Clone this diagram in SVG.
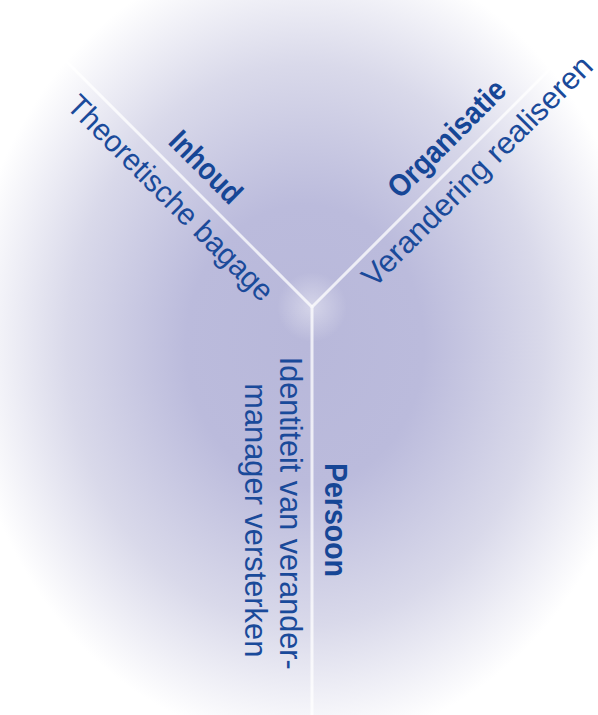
<svg xmlns="http://www.w3.org/2000/svg" width="598" height="715" viewBox="0 0 598 715">
  <defs>
    <radialGradient id="bg" cx="0" cy="0" r="1" gradientUnits="userSpaceOnUse" gradientTransform="translate(305 345) scale(340 400)">
      <stop offset="0" stop-color="#b8b8da"/>
      <stop offset="0.35" stop-color="#bbbbdc"/>
      <stop offset="0.7" stop-color="#d9d9ea"/>
      <stop offset="1" stop-color="#ffffff"/>
    </radialGradient>
    <radialGradient id="glow" cx="312" cy="307" r="35" gradientUnits="userSpaceOnUse">
      <stop offset="0" stop-color="#ffffff" stop-opacity="0.4"/>
      <stop offset="1" stop-color="#ffffff" stop-opacity="0"/>
    </radialGradient>
    <style>
      .ln { stroke: #ffffff; stroke-width: 3; stroke-opacity: 0.75; fill: none; }
      .hd { font-family: "Liberation Sans", Arial, sans-serif; font-weight: bold; font-size: 31px; fill: #164696; }
      .sb { font-family: "Liberation Sans", Arial, sans-serif; font-size: 30.5px; fill: #1a4a9a; }
    </style>
  </defs>
  <rect width="598" height="715" fill="url(#bg)"/>
  <circle cx="312" cy="307" r="35" fill="url(#glow)"/>
  <g id="connectors">
    <line class="ln" x1="312" y1="307" x2="5" y2="0"/>
    <line class="ln" x1="312" y1="307" x2="598" y2="21"/>
    <line class="ln" x1="312" y1="307" x2="312" y2="715"/>
  </g>
  <g id="node-inhoud" transform="translate(312 307) rotate(45)">
    <text class="hd" x="-218.5" y="-13.4" textLength="89" lengthAdjust="spacingAndGlyphs">Inhoud</text>
    <text class="sb" x="-315.6" y="33.2" textLength="277" lengthAdjust="spacingAndGlyphs">Theoretische bagage</text>
  </g>
  <g id="node-organisatie" transform="translate(312 307) rotate(-45)">
    <text class="hd" x="137.9" y="-13.4" textLength="153" lengthAdjust="spacingAndGlyphs">Organisatie</text>
    <text class="sb" x="56.8" y="30.9" textLength="312" lengthAdjust="spacingAndGlyphs">Verandering realiseren</text>
  </g>
  <g id="node-persoon" transform="translate(312 307) rotate(90)">
    <text class="hd" x="156" y="-13" textLength="114" lengthAdjust="spacingAndGlyphs">Persoon</text>
    <text class="sb" x="49.7" y="32" textLength="313" lengthAdjust="spacingAndGlyphs">Identiteit van verander-</text>
    <text class="sb" x="76.3" y="67" textLength="274" lengthAdjust="spacingAndGlyphs">manager versterken</text>
  </g>
</svg>
